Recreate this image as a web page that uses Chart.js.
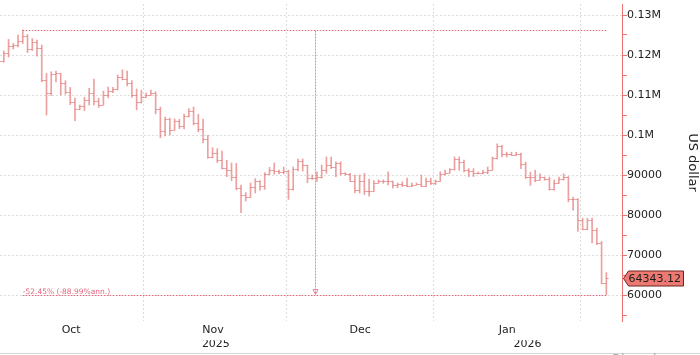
<!DOCTYPE html>
<html>
<head>
<meta charset="utf-8">
<script src="https://cdn.jsdelivr.net/npm/chart.js@4.4.1/dist/chart.umd.min.js"></script>
<style>
  body { margin: 0; background: #fff; }
  #wrap { position: relative; width: 700px; height: 355px; overflow: hidden; }
  #rule { position: absolute; left: 0; top: 353px; width: 700px; border-top: 1px solid #d8d8d8; }
  #brand { position: absolute; left: 612px; top: 351px; font: 13px 'DejaVu Sans'; color: #aaa; }
</style>
</head>
<body>
<div id="wrap">
  <canvas id="btcChart" width="700" height="355"></canvas>
  <div id="rule"></div>
  <div id="brand">Bloomberg</div>
</div>
<script>
// daily bars, day 0 = 1 Oct 2025, values in US dollar
const opens = [
  114000, 118400, 120600, 122300, 122400, 123500, 124700, 121400, 123300, 121700,
  113800, 110600, 115200, 115400, 113100, 110800, 108200, 106400, 107200, 108700,
  110600, 108500, 107600, 110100, 111000, 111600, 114500, 114100, 112900, 110000,
  108300, 109600, 110100, 110600, 106500, 100900, 103900, 101300, 103400, 102300,
  104700, 106000, 103000, 101600, 99000, 94600, 95400, 93800, 91700, 91300,
  89600, 86800, 85100, 84500, 87000, 88500, 87200, 90200, 91300, 90900,
  90800, 91000, 86600, 91600, 93600, 92400, 89300, 89300, 89600, 91200,
  92500, 92000, 93000, 90400, 90200, 88600, 86300, 88400, 85900, 85900,
  88100, 88400, 88500, 88400, 87500, 87800, 87600, 87300, 87500, 87800,
  87200, 88400, 87900, 88500, 90300, 90600, 91400, 94100, 93300, 91200,
  91000, 90500, 90600, 90800, 91200, 94200, 97300, 95300, 95200, 95100,
  95300, 92800, 89500, 89500, 88700, 89500, 89100, 86400, 87900, 89100,
  89500, 84100, 84000, 78800, 76500, 78800, 76300, 73000, 62900
];
const highs = [
  118600, 121000, 123900, 122900, 125000, 126270, 125100, 124100, 123700, 122500,
  115400, 115800, 116000, 115400, 113600, 111900, 109200, 107500, 109400, 111700,
  114000, 109200, 111000, 112000, 111900, 115000, 116300, 116000, 113600, 111500,
  111200, 110500, 111200, 110800, 107000, 104500, 104200, 104000, 103900, 105200,
  106600, 107000, 105200, 104000, 99900, 96800, 96600, 96000, 93700, 93000,
  92900, 87500, 85600, 88000, 89100, 88600, 90600, 91900, 93000, 91200,
  92000, 91200, 92000, 94000, 94000, 92500, 90000, 90800, 92500, 94500,
  94500, 93300, 93300, 90600, 90400, 90000, 90000, 90400, 89000, 88600,
  88800, 88800, 90800, 88500, 88000, 88300, 89200, 88000, 88000, 90000,
  89200, 89200, 88800, 90800, 91200, 91600, 94500, 94500, 93700, 91600,
  91600, 90800, 91200, 92000, 94500, 97800, 97400, 95700, 95700, 95700,
  95500, 93200, 90700, 91200, 90300, 89500, 89500, 88700, 89500, 90300,
  89600, 84500, 84100, 79200, 79200, 79200, 76700, 73400, 65600
];
const lows = [
  113800, 118200, 119500, 121500, 122000, 122900, 120600, 121100, 119700, 113300,
  105000, 109900, 113300, 110000, 110200, 107600, 103600, 106300, 106100, 107500,
  107500, 106900, 107500, 109300, 110600, 111300, 113800, 112300, 109400, 106300,
  108000, 109400, 109900, 105300, 99300, 99800, 100000, 101200, 101600, 101500,
  104500, 102500, 100800, 98000, 94200, 94300, 93100, 91500, 89600, 88600,
  86300, 80600, 83500, 84400, 85500, 86200, 86400, 90100, 90200, 90300,
  90300, 83900, 86200, 91000, 91000, 88100, 88900, 88400, 89200, 90400,
  91600, 89600, 90000, 90000, 88400, 85500, 85500, 85100, 84700, 85900,
  88000, 87900, 87500, 86700, 86800, 87100, 87100, 87100, 87500, 87100,
  87100, 87600, 87600, 88400, 90000, 90500, 91200, 91200, 90800, 89600,
  89600, 90300, 90300, 90300, 91200, 94000, 94500, 94500, 94900, 94900,
  91600, 89100, 87400, 88300, 88700, 88700, 86200, 86200, 87900, 88700,
  83300, 81200, 75900, 76300, 76300, 73000, 72600, 62800, 60040
];
const closes = [
  118400, 120600, 122300, 122400, 123500, 124700, 121400, 123300, 121700, 113800,
  110600, 115200, 115400, 113100, 110800, 108200, 106400, 107200, 108700, 110600,
  108500, 107600, 110100, 111000, 111600, 114500, 114100, 112900, 110000, 108300,
  109600, 110100, 110600, 106500, 100900, 103900, 101300, 103400, 102300, 104700,
  106000, 103000, 101600, 99000, 94600, 95400, 93800, 91700, 91300, 89600,
  86800, 85100, 84500, 87000, 88500, 87200, 90200, 91300, 90900, 90800,
  91000, 86600, 91600, 93600, 92400, 89300, 89300, 89600, 91200, 92500,
  92000, 93000, 90400, 90200, 88600, 86300, 88400, 85900, 85900, 88100,
  88400, 88500, 88400, 87500, 87800, 87600, 87300, 87500, 87800, 87200,
  88400, 87900, 88500, 90300, 90600, 91400, 94100, 93300, 91200, 91000,
  90500, 90600, 90800, 91200, 94200, 97300, 95300, 95200, 95100, 95300,
  92800, 89500, 89500, 88700, 89500, 89100, 86400, 87900, 89100, 89500,
  84100, 84000, 78800, 76500, 78800, 76300, 73000, 62900, 64343.12
];

// axis labels (positions in day index)
const monthNames = ['Oct', 'Nov', 'Dec', 'Jan'];
const monthCenters = [15.2, 45.1, 76.1, 107.1];
const monthBounds = [30.5, 60.5, 91.5, 122.5];
const yearNames = ['2025', '2026'];
const yearCenters = [45.7, 111.4];
const yTicks = [55000, 60000, 65000, 70000, 75000, 80000, 85000, 90000, 95000,
  100000, 105000, 110000, 115000, 120000, 125000, 130000];

const barColor = 'rgba(228, 120, 120, 0.7)';
const noteColor = 'rgba(226, 88, 112, 0.9)';
const font = 'DejaVu Sans';
const xMin = 0.2, xMax = 131.3;

Chart.defaults.font.family = font;

const ohlcPlugin = {
  id: 'ohlc',
  afterDatasetsDraw(chart) {
    const { ctx, chartArea } = chart;
    const x = chart.scales.x, y = chart.scales.y;
    const half = (x.getPixelForValue(1) - x.getPixelForValue(0)) / 2;
    ctx.save();
    ctx.beginPath();
    ctx.rect(chartArea.left, chartArea.top, chartArea.right - chartArea.left, chartArea.bottom - chartArea.top);
    ctx.clip();

    // open / close ticks
    ctx.strokeStyle = barColor;
    ctx.lineWidth = 1;
    ctx.beginPath();
    for (let i = 0; i < closes.length; i++) {
      const px = x.getPixelForValue(i);
      const yo = Math.round(y.getPixelForValue(opens[i])) + 0.5;
      const yc = Math.round(y.getPixelForValue(closes[i])) + 0.5;
      ctx.moveTo(px - half, yo);
      ctx.lineTo(px, yo);
      ctx.moveTo(px, yc);
      ctx.lineTo(px + half, yc);
    }
    ctx.stroke();

    // peak-to-trough measure
    const peak = Math.max(...highs);
    const trough = Math.min(...lows);
    const iPeak = highs.indexOf(peak);
    const iEnd = closes.length - 1;
    const xa = x.getPixelForValue(iPeak);
    const xb = x.getPixelForValue(iEnd);
    const xm = x.getPixelForValue((iPeak + iEnd) / 2);
    const yp = Math.round(y.getPixelForValue(peak)) + 0.5;
    const yt = Math.round(y.getPixelForValue(trough)) + 0.5;

    ctx.strokeStyle = noteColor;
    ctx.setLineDash([1.5, 1.5]);
    ctx.beginPath();
    ctx.moveTo(xa, yp); ctx.lineTo(xb, yp);
    ctx.moveTo(xa, yt); ctx.lineTo(xb, yt);
    ctx.stroke();

    ctx.strokeStyle = 'rgba(230, 120, 150, 0.9)';
    ctx.setLineDash([2, 1]);
    ctx.beginPath();
    ctx.moveTo(Math.round(xm) + 0.5, yp);
    ctx.lineTo(Math.round(xm) + 0.5, yt - 1);
    ctx.stroke();
    ctx.setLineDash([]);
    ctx.beginPath();
    ctx.moveTo(Math.round(xm) - 2, yt - 6);
    ctx.lineTo(Math.round(xm) + 3, yt - 6);
    ctx.lineTo(Math.round(xm) + 0.5, yt - 1);
    ctx.closePath();
    ctx.stroke();

    const ratio = trough / peak;
    const days = iEnd - iPeak;
    const pct = ((ratio - 1) * 100).toFixed(2);
    const ann = ((Math.pow(ratio, 365 / days) - 1) * 100).toFixed(2);
    ctx.fillStyle = noteColor;
    ctx.font = '7.5px ' + font;
    ctx.textBaseline = 'alphabetic';
    ctx.textAlign = 'left';
    ctx.fillText(pct + '% (' + ann + '%ann.)', xa, yt - 1.5);
    ctx.restore();
  },
  afterDraw(chart) {
    const { ctx } = chart;
    const y = chart.scales.y;
    const last = closes[closes.length - 1];
    const ax = Math.round(y.left) + 0.5;
    const yv = Math.round(y.getPixelForValue(last)) + 0.5;
    ctx.save();
    ctx.beginPath();
    ctx.moveTo(ax + 1, yv);
    ctx.lineTo(ax + 6, yv - 7.5);
    ctx.lineTo(683.5, yv - 7.5);
    ctx.lineTo(683.5, yv + 7.5);
    ctx.lineTo(ax + 6, yv + 7.5);
    ctx.closePath();
    ctx.fillStyle = '#ec7a72';
    ctx.fill();
    ctx.strokeStyle = '#6e2222';
    ctx.lineWidth = 1;
    ctx.stroke();
    ctx.fillStyle = '#1c1c1c';
    ctx.font = '11px ' + font;
    ctx.textBaseline = 'middle';
    ctx.textAlign = 'left';
    ctx.fillText(last.toFixed(2), ax + 6, yv + 0.5);
    ctx.restore();
  }
};

const hiLo = closes.map((c, i) => ({ x: i, y: [lows[i], highs[i]] }));

new Chart(document.getElementById('btcChart'), {
  type: 'bar',
  data: {
    datasets: [{
      data: hiLo,
      backgroundColor: barColor,
      borderWidth: 0,
      barThickness: 1,
      xAxisID: 'x',
      yAxisID: 'y'
    }]
  },
  options: {
    responsive: false,
    animation: false,
    events: [],
    layout: { padding: { top: 4, bottom: 7.2, left: 0, right: 0 } },
    plugins: { legend: { display: false }, tooltip: { enabled: false } },
    scales: {
      x: {
        type: 'linear', position: 'bottom', weight: 0, bounds: 'data',
        min: xMin, max: xMax, offset: false,
        afterBuildTicks: s => { s.ticks = monthBounds.map(v => ({ value: v })); },
        ticks: { display: false },
        grid: { offset: false, drawTicks: false, color: '#dcdcdc', lineWidth: 1 },
        border: { display: false, dash: [2, 2] }
      },
      xm: {
        type: 'linear', position: 'bottom', weight: 1, bounds: 'data',
        min: xMin, max: xMax, offset: false,
        afterBuildTicks: s => { s.ticks = monthCenters.map(v => ({ value: v })); },
        ticks: {
          autoSkip: false, maxRotation: 0, padding: 3, color: '#222',
          font: { size: 11 },
          callback: (v, i) => monthNames[i]
        },
        grid: { display: false, drawTicks: false },
        border: { display: false }
      },
      xy: {
        type: 'linear', position: 'bottom', weight: 2, bounds: 'data',
        min: xMin, max: xMax, offset: false,
        afterBuildTicks: s => { s.ticks = yearCenters.map(v => ({ value: v })); },
        ticks: {
          autoSkip: false, maxRotation: 0, padding: -2.8, color: '#222',
          font: { size: 11 },
          callback: (v, i) => yearNames[i]
        },
        grid: { display: false, drawTicks: false },
        border: { display: false }
      },
      y: {
        type: 'linear', position: 'right', bounds: 'data',
        min: 53500, max: 132750,
        afterBuildTicks: s => {
          s.ticks = yTicks.map(v => ({ value: v })).concat([{ value: s.max }]);
        },
        afterFit: s => { s.width = 78; },
        ticks: {
          padding: 0, color: '#222', font: { size: 11 },
          callback: v => {
            if (v % 10000 !== 0) return [];
            return v >= 100000 ? String(v / 1e6) + 'M' : String(v);
          }
        },
        grid: {
          tickLength: 5,
          color: c => (c.tick && c.tick.value % 10000 === 0 ? '#dcdcdc' : 'transparent'),
          tickColor: c => (c.tick && yTicks.includes(c.tick.value) ? '#f07272' : 'transparent')
        },
        border: { display: true, color: '#f07272', width: 1, dash: [2, 2] },
        title: {
          display: true, text: 'US dollar', color: '#222',
          font: { size: 13 }, padding: { top: 0, bottom: 0 }
        }
      }
    }
  },
  plugins: [ohlcPlugin]
});
</script>
</body>
</html>
